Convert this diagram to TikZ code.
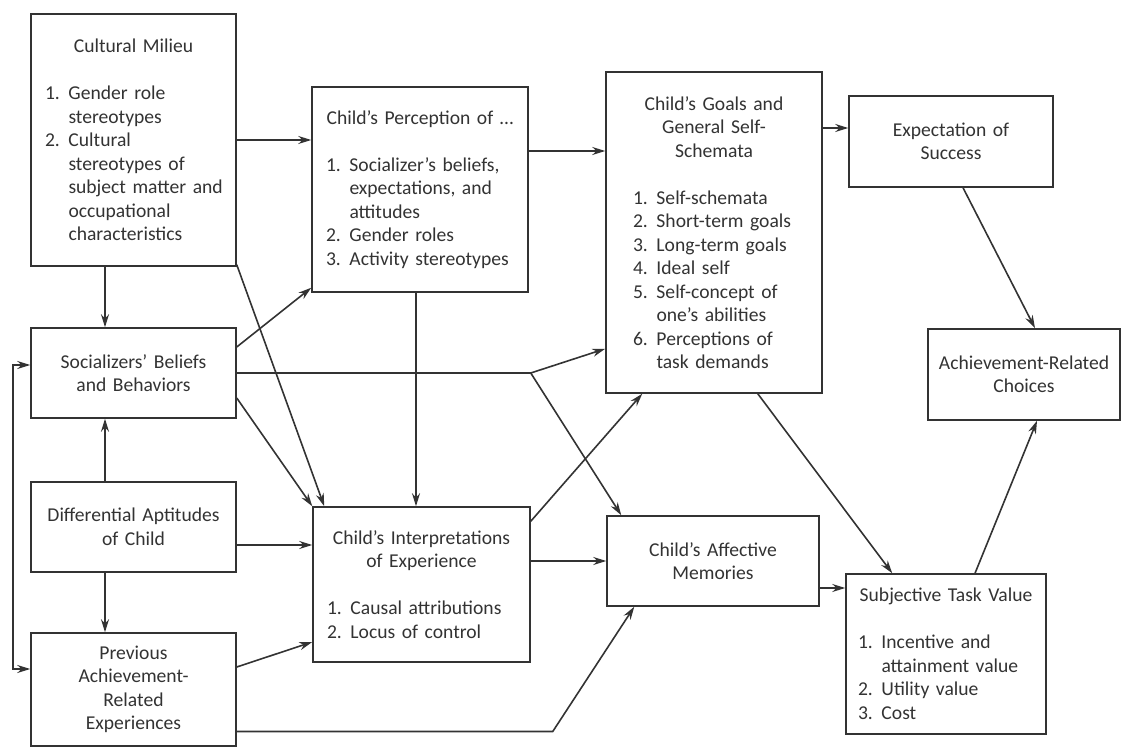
\documentclass[tikz,border=0pt]{standalone}
\usepackage{fontspec}
\setmainfont{Carlito}
\usepackage{tikz}
\usetikzlibrary{positioning}
\usetikzlibrary{calc}
\usetikzlibrary{arrows.meta}
\definecolor{ink}{rgb}{0.2,0.2,0.2}

\newcommand{\headline}[1]{{\centering #1\par}}
\newcommand{\li}[2]{\par\noindent\hangindent=11.75pt\hangafter=1\makebox[11.75pt][l]{#1}{\let\\\newline #2}\par}

\begin{document}
\begin{tikzpicture}[
            x = 0.5pt, y = -0.5pt,
            > = {Stealth[length=6.5pt, width=4pt]}, % arrow head style
            line width = 0.8pt, % line style
            color = ink
        ]

        \tikzstyle{box}=[
            draw = ink,
            fill = white,
            line width = 0.75pt,
            inner xsep = 3pt,
            inner ysep = 0pt,
            align = center,
            font = \fontsize{9.8}{11.75}\selectfont
        ]
        \tikzstyle{listbox}=[box, inner xsep = 7pt, align = left]

        \useasboundingbox (0,0) rectangle (1133,747);

	% left column
        \node[listbox, inner xsep=3pt, text width=96.5pt, minimum height=126pt] (cult) at (133.5,140) {%
            \leftskip=4pt
            \headline{Cultural Milieu}\vspace{11.75pt}
            \li{1.}{Gender role\\stereotypes}
            \li{2.}{Cultural\\stereotypes of\\subject matter and\\occupational\\characteristics}};
        \node[box, text width=96.5pt, minimum height=45pt] (soc) at (133.5,373) {Socializers’ Beliefs\\and Behaviors};
        \node[box, text width=96.5pt, minimum height=45pt] (diff) at (133.5,527) {Differential Aptitudes\\of Child};
        \node[box, text width=96.5pt, minimum height=56.5pt] (prev) at (133.5,689.5) {Previous\\Achievement-\\Related\\Experiences};

	% child level
        \node[listbox, text width=94pt, minimum height=102.5pt] (perc) at (420,189.5) {%
            \headline{Child’s Perception of \ldots}\vspace{11.75pt}
            \li{1.}{Socializer’s beliefs,\\expectations, and\\attitudes}
            \li{2.}{Gender roles}
            \li{3.}{Activity stereotypes}};
        \node[listbox, text width=94.5pt, minimum height=77.5pt] (interp) at (421.5,584.5) {%
            \headline{Child’s Interpretations\\of Experience}\vspace{11.75pt}
            \li{1.}{Causal attributions}
            \li{2.}{Locus of control}};
        \node[listbox, inner xsep=13.5pt, text width=81pt, minimum height=160.5pt] (goals) at (714,232.5) {%
            \headline{Child’s Goals and\\General Self-\\Schemata}\vspace{11.75pt}
            \li{1.}{Self-schemata}
            \li{2.}{Short-term goals}
            \li{3.}{Long-term goals}
            \li{4.}{Ideal self}
            \li{5.}{Self-concept of\\one’s abilities}
            \li{6.}{Perceptions of\\task demands}};
        \node[box, text width=100pt, minimum height=45pt] (affect) at (713,561) {Child’s Affective\\Memories};

	% outcomes
        \node[box, text width=96pt, minimum height=45.5pt] (expect) at (951,141.5) {Expectation of\\Success};
        \node[listbox, inner xsep=6pt, text width=88pt, minimum height=80pt] (stv) at (946,654) {%
            \headline{Subjective Task Value}\vspace{11.75pt}
            \li{1.}{Incentive and\\attainment value}
            \li{2.}{Utility value}
            \li{3.}{Cost}};
        \node[box, text width=90pt, minimum height=45.5pt] (choices) at (1024,374.5) {Achievement-Related\\Choices};

        \coordinate (split) at (soc.east -| interp.east);

	% arrows from the left column
        \draw[->] (cult.east) -- (cult.east -| perc.west);
        \draw[->] ($(cult.south)+(-28.5,0)$) -- ($(soc.north)+(-28.5,0)$);
        \draw[->] ($(cult.south east)+(0,-2)$) -- ($(interp.north west)+(12,0)$);
        \draw[->] ($(soc.east)+(0,-26)$) -- ($(perc.south west)+(0,-5)$);
        \draw (soc.east) -- (split);
        \draw[->] (split) -- ($(goals.south west)+(0,-45)$);
        \draw[->] (split) -- ($(affect.north west)+(15,0)$);
        \draw[->] ($(soc.east)+(0,25)$) -- (interp.north west);
        \draw[->] ($(diff.north)+(-28.5,0)$) -- ($(soc.south)+(-28.5,0)$);
        \draw[->] ($(diff.south)+(-28.5,0)$) -- ($(prev.north)+(-28.5,0)$);
        \draw[->] ($(diff.east)+(0,18)$) -- ($(interp.west)+(0,-39.5)$);
        \draw[<->] ($(soc.west)+(0,-8)$) -- ++(-17,0) |- ($(prev.west)+(0,-20.5)$);
        \draw[->] ($(prev.east)+(0,-22.5)$) -- ($(interp.west)+(0,57.5)$);
        \draw[->] ($(prev.east)+(0,42)$) -- ++(316,0) -- ($(affect.south west)+(28,0)$);

	% arrows in the middle
        \draw[->] ($(perc.east)+(0,-38.5)$) -- ($(goals.west)+(0,-81.5)$);
        \draw[->] ($(perc.south)+(-4,0)$) -- ($(interp.north)+(-5.5,0)$);
        \draw[->] ($(interp.north east)+(0,15)$) -- ($(goals.south west)+(37,0)$);
        \draw[->] (interp.east |- affect.west) -- (affect.west);

	% arrows to the outcomes
        \draw[->] ($(goals.east)+(0,-104.5)$) -- ($(expect.west)+(0,-13.5)$);
        \draw[->] ($(goals.south east)+(-65,0)$) -- ($(stv.north west)+(47,0)$);
        \draw[->] ($(affect.east)+(0,27)$) -- ($(stv.west)+(0,-66)$);
        \draw[->] ($(expect.south)+(12,0)$) -- ($(choices.north)+(11,0)$);
        \draw[->] ($(stv.north)+(29,0)$) -- ($(choices.south)+(13,0)$);

\end{tikzpicture}
\end{document}
